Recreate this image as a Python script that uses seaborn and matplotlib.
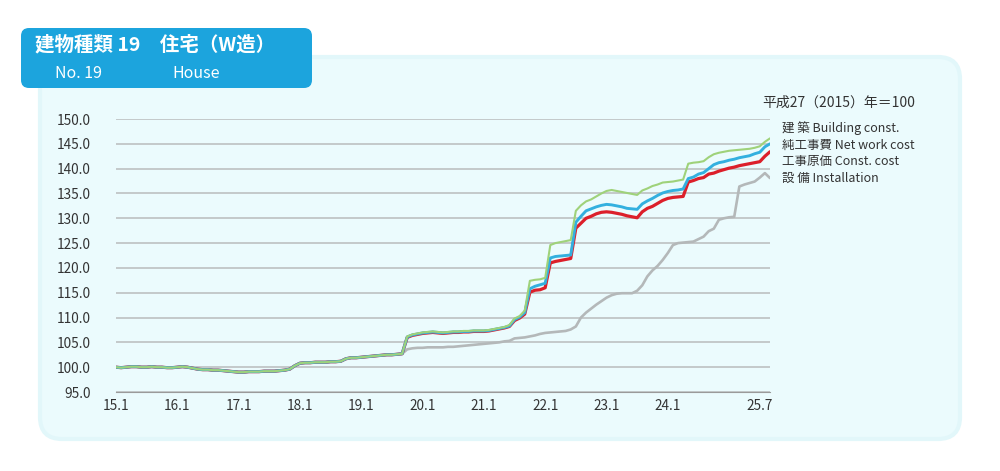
import numpy as np
import pandas as pd
import matplotlib.pyplot as plt
from matplotlib.patches import FancyBboxPatch
from matplotlib.ticker import MultipleLocator
import seaborn as sns

# ---------------------------------------------------------------
# Datos (índice mensual, 2015.1 - 2025.9, 平成27(2015)年=100)
# ---------------------------------------------------------------
# tramo común a las cuatro series (2015.1 - 2019.9)
early = [100.0, 99.9, 100.0, 100.1, 100.1, 100.0, 100.0, 100.1, 100.0, 100.0, 99.9, 99.9,
         100.0, 100.1, 100.0, 99.8, 99.6, 99.5, 99.5, 99.4, 99.4, 99.3, 99.2, 99.1,
         99.0, 99.0, 99.1, 99.1, 99.1, 99.2, 99.2, 99.2, 99.3, 99.4, 99.6, 100.3,
         100.8, 100.9, 100.9, 101.0, 101.0, 101.0, 101.1, 101.1, 101.2, 101.7, 101.9, 101.9,
         102.0, 102.1, 102.2, 102.3, 102.4, 102.5, 102.5, 102.6, 102.7]

# 2019.10 - 2025.9
building = [106.2, 106.6, 106.8,
            107.0, 107.1, 107.2, 107.1, 107.0, 107.1, 107.2, 107.2, 107.3, 107.3, 107.4, 107.4,
            107.4, 107.5, 107.7, 107.9, 108.1, 108.5, 109.8, 110.3, 111.4, 117.4, 117.6, 117.7,
            118.0, 124.6, 125.0, 125.2, 125.4, 125.6, 131.5, 132.6, 133.4, 133.8, 134.4, 135.0,
            135.5, 135.7, 135.5, 135.3, 135.1, 134.9, 134.7, 135.6, 136.0, 136.5, 136.8, 137.2,
            137.3, 137.4, 137.6, 137.8, 141.0, 141.2, 141.3, 141.5, 142.3, 142.9, 143.2, 143.4,
            143.6, 143.7, 143.8, 143.9, 144.0, 144.2, 144.5, 145.4, 146.1]

net_work = [106.1, 106.5, 106.7,
            106.9, 107.0, 107.1, 107.0, 106.9, 107.0, 107.1, 107.1, 107.2, 107.2, 107.3, 107.3,
            107.3, 107.4, 107.6, 107.8, 108.0, 108.3, 109.6, 110.1, 111.0, 115.8, 116.3, 116.6,
            116.9, 122.0, 122.3, 122.4, 122.5, 122.6, 129.2, 130.4, 131.5, 131.9, 132.3, 132.6,
            132.8, 132.7, 132.5, 132.3, 132.0, 131.9, 131.8, 132.9, 133.5, 134.0, 134.6, 135.1,
            135.4, 135.6, 135.7, 135.9, 138.0, 138.3, 138.9, 139.2, 140.0, 140.8, 141.2, 141.4,
            141.7, 141.9, 142.2, 142.4, 142.6, 143.0, 143.3, 144.4, 145.0]

const_cost = [106.0, 106.4, 106.6,
              106.8, 106.9, 107.0, 106.9, 106.8, 106.9, 107.0, 107.0, 107.1, 107.1, 107.2, 107.2,
              107.2, 107.3, 107.5, 107.7, 107.9, 108.2, 109.4, 109.9, 110.7, 115.1, 115.5, 115.6,
              116.0, 121.0, 121.3, 121.5, 121.7, 121.9, 128.0, 129.0, 130.0, 130.4, 130.9, 131.2,
              131.3, 131.2, 131.0, 130.8, 130.5, 130.3, 130.1, 131.3, 132.0, 132.4, 133.0, 133.6,
              134.0, 134.2, 134.3, 134.4, 137.3, 137.6, 138.0, 138.2, 138.9, 139.1, 139.5, 139.8,
              140.1, 140.3, 140.6, 140.8, 141.0, 141.2, 141.4, 142.5, 143.4]

installation = [103.6, 103.8, 103.9,
                103.9, 104.0, 104.0, 104.0, 104.0, 104.1, 104.1, 104.2, 104.3, 104.4, 104.5, 104.6,
                104.7, 104.8, 104.9, 105.0, 105.2, 105.3, 105.8, 105.9, 106.0, 106.2, 106.4, 106.7,
                106.9, 107.0, 107.1, 107.2, 107.3, 107.6, 108.2, 110.0, 111.0, 111.8, 112.6, 113.3,
                114.0, 114.5, 114.8, 114.9, 114.9, 114.9, 115.4, 116.5, 118.3, 119.5, 120.4, 121.6,
                123.0, 124.6, 125.0, 125.1, 125.2, 125.3, 125.8, 126.3, 127.4, 127.9, 129.7, 130.0,
                130.2, 130.3, 136.4, 136.8, 137.1, 137.4, 138.2, 139.1, 138.1]

series_names = ["設 備 Installation", "工事原価 Const. cost", "純工事費 Net work cost", "建 築 Building const."]
series_vals = [installation, const_cost, net_work, building]
colors = ["#b4b8b9", "#dc1f2a", "#33b0df", "#9fd27a"]
widths = [1.9, 2.3, 2.1, 1.5]

xtick_pos = [0, 12, 24, 36, 48, 60, 72, 84, 96, 108, 126]
xtick_labels = ["15.1", "16.1", "17.1", "18.1", "19.1", "20.1", "21.1", "22.1", "23.1", "24.1", "25.7"]

# tabla larga para seaborn
frames = []
for name, vals in zip(series_names, series_vals):
    y = early + vals
    frames.append(pd.DataFrame({"mes": np.arange(len(y)), "indice": y, "serie": name}))
df = pd.concat(frames, ignore_index=True)

# ---------------------------------------------------------------
# Figura
# ---------------------------------------------------------------
sns.set_style("white")
plt.rcParams['font.family'] = ['Noto Sans CJK JP', 'DejaVu Sans']

fig = plt.figure(figsize=(10, 4.71), dpi=100)
fig.patch.set_facecolor("white")

# capa de fondo en coordenadas de píxel
bg = fig.add_axes([0, 0, 1, 1])
bg.set_xlim(0, 1000)
bg.set_ylim(471, 0)
bg.axis("off")
bg.add_patch(FancyBboxPatch((40, 57), 920, 382, boxstyle="round,pad=0,rounding_size=22",
                            facecolor="#ebfbfd", edgecolor="#e2f7fa", linewidth=3))
bg.add_patch(FancyBboxPatch((21, 28), 291, 60, boxstyle="round,pad=0,rounding_size=8",
                            facecolor="#1ca4dd", edgecolor="none"))
bg.text(35, 45, "建物種類 19　住宅（W造）", color="white", fontsize=14, fontweight="bold", va="center")
bg.text(55, 73, "No. 19", color="white", fontsize=11.5, va="center")
bg.text(172, 73, "House", color="white", fontsize=11.5, va="center")

# leyenda como texto junto a los finales de línea
bg.text(762, 103, "平成27（2015）年＝100", fontsize=10, color="#333333", va="center")
for name, ypix in zip(series_names[::-1], [128, 145, 161, 178]):
    bg.text(782, ypix, name, fontsize=9, color="#333333", va="center")

ax = fig.add_axes([0.116, 1 - 392 / 471, 0.654, (392 - 119) / 471])
ax.set_facecolor("none")

for name, c, lw in zip(series_names, colors, widths):
    sns.lineplot(data=df[df["serie"] == name], x="mes", y="indice", color=c,
                 linewidth=lw, ax=ax, legend=False)

ax.set_xlim(0, 128)
ax.set_ylim(95, 150)
ax.set_yticks(np.arange(95, 150.1, 5))
ax.set_yticklabels([f"{v:.1f}" for v in np.arange(95, 150.1, 5)], fontsize=9.8, color="#333333")
ax.set_xticks(xtick_pos)
ax.set_xticklabels(xtick_labels, fontsize=9.8, color="#333333")
ax.xaxis.set_minor_locator(MultipleLocator(1))
ax.grid(axis="y", color="#b9bcbd", linewidth=1.1)
ax.set_axisbelow(True)
for s in ["top", "right", "left"]:
    ax.spines[s].set_visible(False)
ax.spines["bottom"].set_color("#9a9a9a")
ax.spines["bottom"].set_linewidth(0.8)
ax.tick_params(axis="y", length=0, pad=18)
ax.tick_params(axis="x", which="major", length=4, direction="inout", color="#999999", pad=3)
ax.tick_params(axis="x", which="minor", length=2, direction="inout", color="#aaaaaa")
ax.set_xlabel("")
ax.set_ylabel("")

fig.savefig("out.png", dpi=100)
